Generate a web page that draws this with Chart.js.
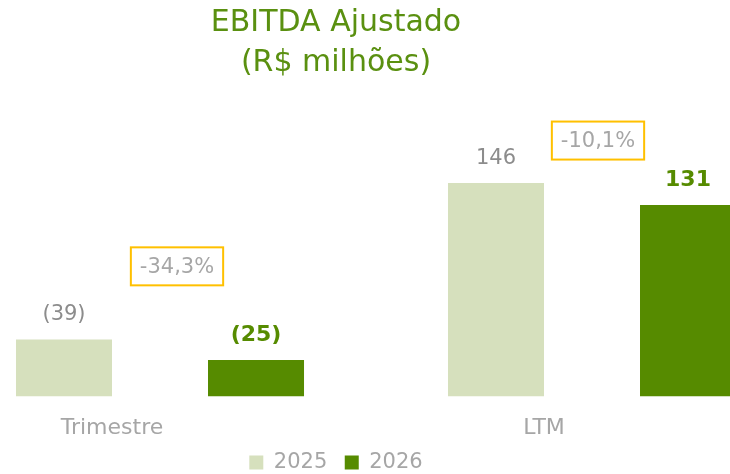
<!DOCTYPE html>
<html>
<head>
<meta charset="utf-8">
<script src="https://cdn.jsdelivr.net/npm/chart.js@4"></script>
<style>
  html, body { margin: 0; padding: 0; background: #fff; overflow: hidden; }
  #caixa { position: relative; width: 730px; height: 474px; overflow: hidden; }
  /* o gráfico original está cortado nas bordas: canvas maior que a janela */
  #grafico { position: absolute; left: -136px; top: 0; }
</style>
</head>
<body>
<div id="caixa"><canvas id="grafico" width="944" height="483"></canvas></div>
<script>
// Dados do gráfico
const categorias = ['Trimestre', 'LTM'];
const anos = ['2025', '2026'];
const valores2025 = [-39, 146];
const valores2026 = [-25, 131];
const variacoes = ['-34,3%', '-10,1%'];
const titulo = ['EBITDA Ajustado', '(R$ milhões)'];

const fonte = "'DejaVu Sans', sans-serif";
const verdeClaro = '#d6e0bd';
const verdeEscuro = '#568b00';
const cinza = '#a6a6a6';

// negativos aparecem entre parênteses
function formatar(v) {
    return v < 0 ? '(' + Math.abs(v) + ')' : String(v);
}

// rótulos das barras + caixas de variação
const rotulosPlugin = {
    id: 'rotulos',
    afterDatasetsDraw(chart, args, opts) {
        const ctx = chart.ctx;
        ctx.save();
        ctx.textAlign = 'center';
        chart.data.datasets.forEach((ds, i) => {
            const meta = chart.getDatasetMeta(i);
            const estilo = opts.estilos[i];
            ctx.font = estilo.font;
            ctx.fillStyle = estilo.cor;
            ctx.textBaseline = 'alphabetic';
            meta.data.forEach((barra, j) => {
                ctx.fillText(formatar(ds.valoresOriginais[j]), barra.x, barra.y - opts.distancia);
            });
        });

        const escalaX = chart.scales.x;
        const escalaY = chart.scales.y;
        const v = opts.variacao;
        ctx.font = v.font;
        variacoes.forEach((txt, j) => {
            const p = v.posicoes[j];
            const cx = escalaX.getPixelForValue(j) + p.dx;
            const cy = escalaY.getPixelForValue(p.valor);
            const w = ctx.measureText(txt).width + 2 * v.folga;
            const h = v.altura;
            ctx.strokeStyle = v.borda;
            ctx.lineWidth = 2;
            ctx.strokeRect(cx - w / 2, cy - h / 2, w, h);
            ctx.fillStyle = cinza;
            ctx.textBaseline = 'middle';
            ctx.fillText(txt, cx, cy + 1);
        });
        ctx.restore();
    }
};

new Chart(document.getElementById('grafico'), {
    type: 'bar',
    data: {
        labels: categorias,
        datasets: [
            {
                label: anos[0],
                data: valores2025.map(v => Math.abs(v)),
                valoresOriginais: valores2025,
                backgroundColor: verdeClaro,
                categoryPercentage: 0.889,
                barPercentage: 0.5
            },
            {
                label: anos[1],
                data: valores2026.map(v => Math.abs(v)),
                valoresOriginais: valores2026,
                backgroundColor: verdeEscuro,
                categoryPercentage: 0.889,
                barPercentage: 0.5
            }
        ]
    },
    options: {
        responsive: false,
        animation: false,
        devicePixelRatio: 1,
        layout: { padding: 0 },
        plugins: {
            title: {
                display: true,
                text: titulo,
                color: '#5a9010',
                font: { family: fonte, size: 30, weight: 'normal', lineHeight: 40 / 30 },
                padding: { top: 3, bottom: 21 }
            },
            legend: {
                position: 'bottom',
                labels: {
                    boxWidth: 14,
                    boxHeight: 14,
                    padding: 17.5,
                    color: cinza,
                    font: { family: fonte, size: 21 }
                }
            },
            tooltip: { enabled: false },
            rotulos: {
                distancia: 19,
                estilos: [
                    { font: "21px 'DejaVu Sans'", cor: '#8c8c8c' },
                    { font: "bold 22px 'DejaVu Sans'", cor: verdeEscuro }
                ],
                variacao: {
                    font: "21px 'DejaVu Sans'",
                    borda: '#ffc000',
                    folga: 9,
                    altura: 38,
                    posicoes: [{ dx: 17, valor: 89 }, { dx: 6, valor: 175 }]
                }
            }
        },
        scales: {
            x: {
                grid: { display: false, drawTicks: false },
                border: { display: false },
                ticks: {
                    color: cinza,
                    font: { family: fonte, size: 22 },
                    padding: 19,
                    labelOffset: -48
                },
                afterFit: s => { s.height = 38; }
            },
            y: {
                min: 0,
                max: 200,
                grid: { display: false, drawTicks: false },
                border: { display: false },
                ticks: { display: false },
                afterFit: s => { s.width = 80; }
            }
        }
    },
    plugins: [rotulosPlugin]
});
</script>
</body>
</html>
